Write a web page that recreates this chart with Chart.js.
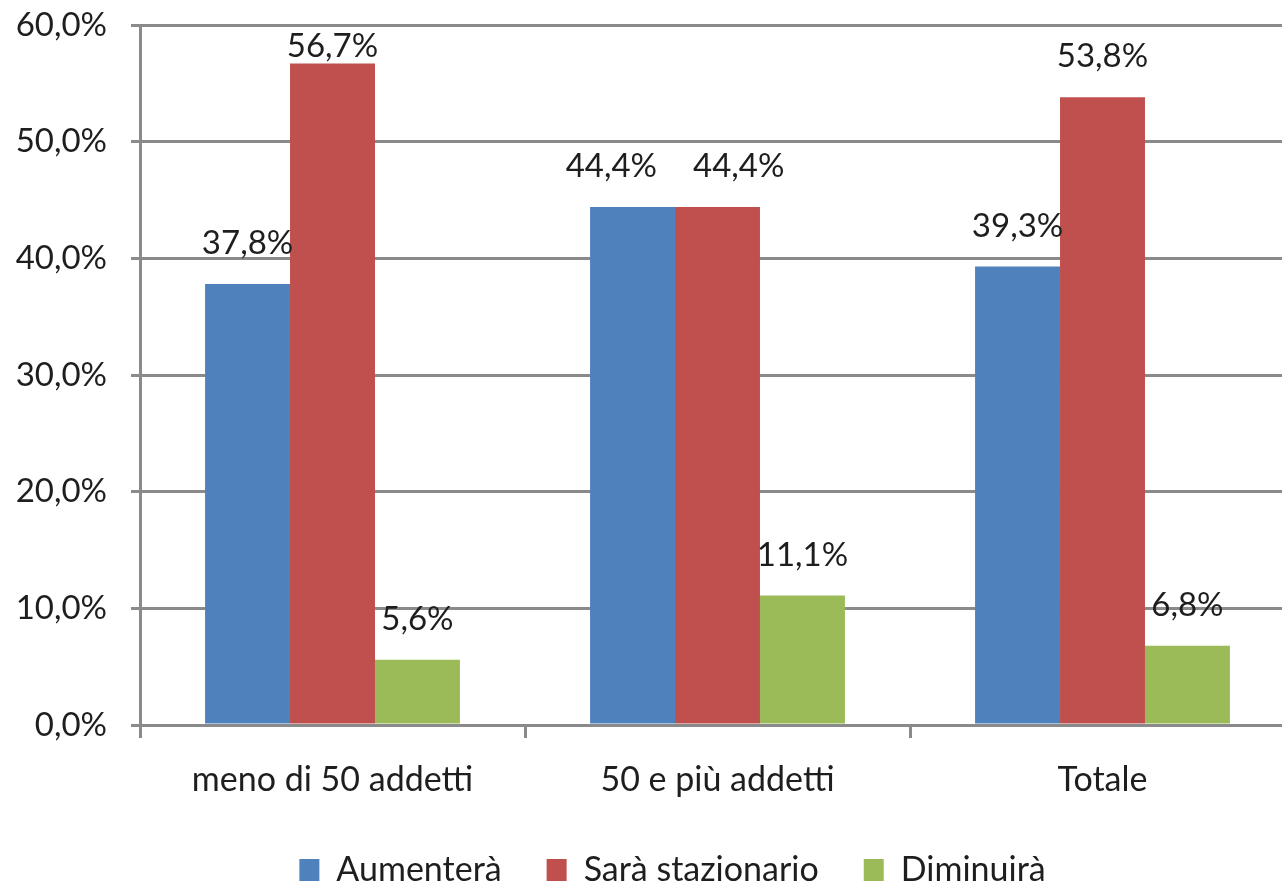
<!DOCTYPE html>
<html>
<head>
<meta charset="utf-8">
<script src="https://cdn.jsdelivr.net/npm/chart.js@4/dist/chart.umd.min.js"></script>
<style>
    body { margin: 0; overflow: hidden; background: #fff; }
    #wrap { width: 1296px; height: 897px; }
</style>
</head>
<body>
<div id="wrap"><canvas id="chart" width="1296" height="897"></canvas></div>
<script>
const categories = ['meno di 50 addetti', '50 e più addetti', 'Totale'];
const seriesNames = ['Aumenterà', 'Sarà stazionario', 'Diminuirà'];
const aumentera = [37.8, 44.4, 39.3];
const stazionario = [56.7, 44.4, 53.8];
const diminuira = [5.6, 11.1, 6.8];
const yTicks = [0, 10, 20, 30, 40, 50, 60];

const colors = ['#4F81BD', '#C0504D', '#9BBB59'];
const gridColor = '#8a8a8a';
const textColor = '#1e1e1e';
const fontFamily = "Lato, 'Liberation Sans', sans-serif";

function fmt(v) {
    return v.toFixed(1).replace('.', ',') + '%';
}

// value labels above each bar, pushed apart when two of them collide
const barLabels = {
    id: 'barLabels',
    afterDatasetsDraw(chart) {
        const ctx = chart.ctx;
        ctx.save();
        ctx.font = '33px ' + fontFamily;
        ctx.fillStyle = textColor;
        ctx.textAlign = 'center';
        ctx.textBaseline = 'alphabetic';
        const items = [];
        chart.data.datasets.forEach((ds, i) => {
            chart.getDatasetMeta(i).data.forEach((bar, j) => {
                const text = fmt(ds.data[j]);
                let y = bar.y - 30;
                y = Math.max(y, chart.chartArea.top + 32);
                items.push({ text, x: bar.x, y, w: ctx.measureText(text).width, cat: j, ds: i });
            });
        });
        items.forEach(a => {
            items.forEach(b => {
                if (a.cat !== b.cat || b.ds !== a.ds + 1) return;
                if (Math.abs(a.y - b.y) > 30) return;
                const need = (a.w + b.w) / 2 + 36 - (b.x - a.x);
                if (need > 0) {
                    a.x -= need / 2;
                    b.x += need / 2;
                }
            });
        });
        items.forEach(it => ctx.fillText(it.text, it.x, it.y));
        ctx.restore();
    }
};

// legend in the original sits a bit right of the canvas centre
const legendShift = {
    id: 'legendShift',
    afterLayout(chart) {
        chart.legend.left += 25;
        chart.legend.right += 25;
    }
};

const ctx = document.getElementById('chart').getContext('2d');

new Chart(ctx, {
    type: 'bar',
    data: {
        labels: categories,
        datasets: [
            { label: seriesNames[0], data: aumentera, backgroundColor: colors[0] },
            { label: seriesNames[1], data: stazionario, backgroundColor: colors[1] },
            { label: seriesNames[2], data: diminuira, backgroundColor: colors[2] }
        ]
    },
    options: {
        responsive: false,
        animation: false,
        layout: { padding: { top: 25, left: 0, right: 1, bottom: 0 } },
        datasets: {
            bar: { categoryPercentage: 0.662, barPercentage: 1.0 }
        },
        plugins: {
            legend: {
                position: 'bottom',
                labels: {
                    font: { family: fontFamily, size: 34 },
                    color: textColor,
                    boxWidth: 20,
                    boxHeight: 22,
                    padding: 45
                }
            },
            tooltip: { enabled: false }
        },
        scales: {
            x: {
                grid: {
                    drawOnChartArea: false,
                    drawTicks: true,
                    tickLength: 13,
                    color: gridColor,
                    lineWidth: 3,
                    offset: true
                },
                border: { color: gridColor, width: 3 },
                ticks: {
                    font: { family: fontFamily, size: 34 },
                    color: textColor,
                    padding: 22
                },
                afterFit(scale) { scale.height = 83; }
            },
            y: {
                min: 0,
                max: 60,
                afterBuildTicks(scale) {
                    scale.ticks = yTicks.map(v => ({ value: v }));
                },
                grid: {
                    color: gridColor,
                    lineWidth: 3,
                    tickLength: 9
                },
                border: { color: gridColor, width: 3 },
                ticks: {
                    font: { family: fontFamily, size: 33 },
                    color: textColor,
                    padding: 24,
                    callback: v => fmt(v)
                },
                afterFit(scale) {
                    scale.width = 140;
                    scale.paddingTop = 0;
                    scale.paddingBottom = 0;
                }
            }
        }
    },
    plugins: [barLabels, legendShift]
});
</script>
</body>
</html>
